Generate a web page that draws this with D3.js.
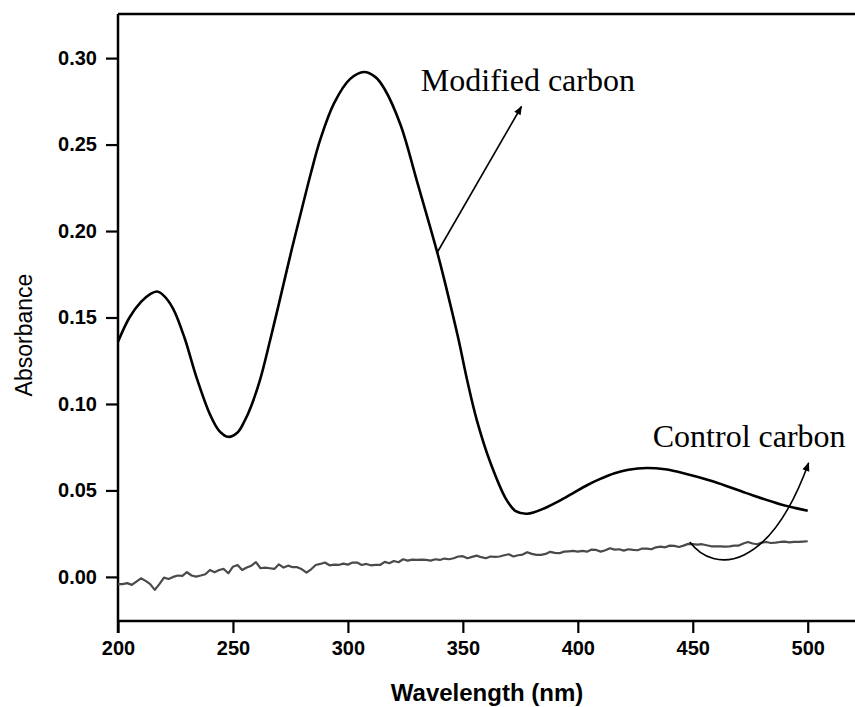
<!DOCTYPE html>
<html>
<head>
<meta charset="UTF-8">
<script src="https://d3js.org/d3.v7.min.js"></script>
<style>
  body { margin: 0; background: #fff; }
</style>
</head>
<body>
<svg></svg>

<script>
// modified carbon spectrum (nm, absorbance)
var modWave = [200, 205, 210, 214, 217, 220, 224, 229, 234, 240, 244, 248, 252, 255, 258, 262, 266, 270, 275.5, 280, 284, 288, 294, 301, 307, 312, 316, 323, 330, 339, 343, 348, 352, 356, 362, 369, 373, 378, 386, 392, 398, 404, 410, 416, 422, 430, 438, 446, 459, 473, 488, 500];
var modAbs = [0.136, 0.150, 0.159, 0.1635, 0.165, 0.1625, 0.155, 0.138, 0.116, 0.094, 0.0845, 0.081, 0.0835, 0.090, 0.099, 0.115, 0.136, 0.158, 0.189, 0.213, 0.234, 0.253, 0.274, 0.288, 0.292, 0.289, 0.282, 0.261, 0.229, 0.187, 0.166, 0.138, 0.113, 0.091, 0.066, 0.0445, 0.038, 0.0365, 0.040, 0.044, 0.0485, 0.053, 0.0568, 0.060, 0.062, 0.063, 0.0622, 0.060, 0.0552, 0.0486, 0.042, 0.0383];

// control carbon, read every 2 nm from 200 to 500
var ctrlWave = d3.range(200, 501, 2);
var ctrlAbs = [
  -0.0042, -0.0042, -0.0036, -0.0046, -0.0027, -0.0008, -0.0023, -0.0042, -0.0075, -0.0042,
  -0.0004, -0.0012, 0.0000, 0.0008, 0.0006, 0.0027, 0.0008, 0.0002, 0.0008, 0.0015,
  0.0040, 0.0027, 0.0040, 0.0046, 0.0021, 0.0059, 0.0069, 0.0040, 0.0054, 0.0065,
  0.0085, 0.0050, 0.0054, 0.0050, 0.0046, 0.0073, 0.0054, 0.0065, 0.0056, 0.0056,
  0.0044, 0.0025, 0.0044, 0.0069, 0.0075, 0.0083, 0.0067, 0.0071, 0.0069, 0.0077,
  0.0071, 0.0083, 0.0083, 0.0069, 0.0075, 0.0067, 0.0069, 0.0069, 0.0087, 0.0079,
  0.0092, 0.0085, 0.0102, 0.0094, 0.0100, 0.0098, 0.0100, 0.0098, 0.0094, 0.0102,
  0.0098, 0.0106, 0.0102, 0.0108, 0.0118, 0.0120, 0.0108, 0.0116, 0.0123, 0.0114,
  0.0108, 0.0118, 0.0116, 0.0118, 0.0125, 0.0131, 0.0118, 0.0125, 0.0129, 0.0143,
  0.0133, 0.0127, 0.0127, 0.0133, 0.0145, 0.0139, 0.0137, 0.0146, 0.0148, 0.0150,
  0.0146, 0.0150, 0.0146, 0.0158, 0.0156, 0.0146, 0.0154, 0.0166, 0.0158, 0.0160,
  0.0152, 0.0160, 0.0156, 0.0154, 0.0164, 0.0164, 0.0160, 0.0171, 0.0175, 0.0171,
  0.0181, 0.0179, 0.0173, 0.0181, 0.0191, 0.0189, 0.0187, 0.0189, 0.0183, 0.0177,
  0.0177, 0.0177, 0.0175, 0.0177, 0.0181, 0.0181, 0.0193, 0.0202, 0.0193, 0.0189,
  0.0198, 0.0202, 0.0196, 0.0198, 0.0202, 0.0204, 0.0200, 0.0202, 0.0202, 0.0204,
  0.0206
];

var xTicks = [200, 250, 300, 350, 400, 450, 500];
var yTicks = [0.00, 0.05, 0.10, 0.15, 0.20, 0.25, 0.30];

let width = 855, height = 707;
let svg = d3.select("svg")
    .attr("width", width)
    .attr("height", height);

var x = d3.scaleLinear().domain([200, 521]).range([118, 856]);
var y = d3.scaleLinear().domain([-0.0255, 0.3255]).range([621, 14]);

svg.append('defs').append('marker')
    .attr('id', 'arrowhead')
    .attr('viewBox', '0 -5 10 10')
    .attr('refX', 9)
    .attr('refY', 0)
    .attr('orient', 'auto')
    .attr('markerUnits', 'userSpaceOnUse')
    .attr('markerWidth', 11)
    .attr('markerHeight', 9)
    .append('path')
    .attr('d', 'M0,-4L10,0L0,4Z')
    .attr('fill', 'black');

// top edge of the frame (right edge falls outside the picture)
svg.append("line").attr("x1", 118).attr("x2", 856).attr("y1", 14).attr("y2", 14)
    .attr("stroke", "black").attr("stroke-width", 2.5);

// axes
var xAxis = svg.append("g")
    .attr("transform", "translate(0,621)")
    .call(d3.axisBottom(x).tickValues(xTicks).tickSize(12).tickSizeOuter(0).tickPadding(8).tickFormat(d3.format("d")));
var yAxis = svg.append("g")
    .attr("transform", "translate(118,0)")
    .call(d3.axisLeft(y).tickValues(yTicks).tickSize(12).tickSizeOuter(0).tickPadding(9).tickFormat(d3.format(".2f")));

[xAxis, yAxis].forEach(function(a) {
  a.select(".domain").attr("stroke-width", 2.5);
  a.selectAll(".tick line").attr("stroke-width", 2.2);
  a.selectAll(".tick text")
    .style("font-family", "Arial, 'Liberation Sans', sans-serif")
    .style("font-weight", "bold")
    .style("font-size", "20px")
    .attr("fill", "black");
});
xAxis.select(".domain").attr("d", "M118,0H856");
yAxis.select(".domain").attr("d", "M0,14V633");

// curves
var modData = modWave.map(function(w, i) { return [w, modAbs[i]]; });
var ctrlData = ctrlWave.map(function(w, i) { return [w, ctrlAbs[i]]; });

var line = d3.line()
    .x(function(d) { return x(d[0]); })
    .y(function(d) { return y(d[1]); });

svg.append("path")
    .datum(ctrlData)
    .attr("fill", "none")
    .attr("stroke", "#4a4a4a")
    .attr("stroke-width", 2.2)
    .attr("stroke-linejoin", "round")
    .attr("d", line.curve(d3.curveLinear));

svg.append("path")
    .datum(modData)
    .attr("fill", "none")
    .attr("stroke", "black")
    .attr("stroke-width", 2.6)
    .attr("d", line.curve(d3.curveCatmullRom.alpha(0.5)));

// annotations
svg.append("line")
    .attr("x1", x(338.6)).attr("y1", y(0.187))
    .attr("x2", x(375.5)).attr("y2", y(0.272))
    .attr("stroke", "black")
    .attr("stroke-width", 1.6)
    .attr("marker-end", "url(#arrowhead)");

var p = d3.path();
p.moveTo(x(448.7), y(0.0202));
p.bezierCurveTo(x(459.6), y(0.0012), x(483.5), y(0.004), x(500.4), y(0.0659));
svg.append("path")
    .attr("d", p.toString())
    .attr("fill", "none")
    .attr("stroke", "black")
    .attr("stroke-width", 1.6)
    .attr("marker-end", "url(#arrowhead)");

svg.append("text")
    .attr("x", x(331.7)).attr("y", y(0.281))
    .text("Modified carbon")
    .style("font-family", "'Times New Roman', 'Liberation Serif', serif")
    .style("font-size", "32px");

svg.append("text")
    .attr("x", x(432.6)).attr("y", y(0.0751))
    .text("Control carbon")
    .style("font-family", "'Times New Roman', 'Liberation Serif', serif")
    .style("font-size", "32px");

// axis titles
svg.append("text")
    .attr("x", 487).attr("y", 701)
    .attr("text-anchor", "middle")
    .text("Wavelength (nm)")
    .style("font-family", "Arial, 'Liberation Sans', sans-serif")
    .style("font-weight", "bold")
    .style("font-size", "24px");

svg.append("text")
    .attr("transform", "translate(32,335) rotate(-90)")
    .attr("text-anchor", "middle")
    .text("Absorbance")
    .style("font-family", "Arial, 'Liberation Sans', sans-serif")
    .style("font-size", "23px");
</script>

</body>
</html>
